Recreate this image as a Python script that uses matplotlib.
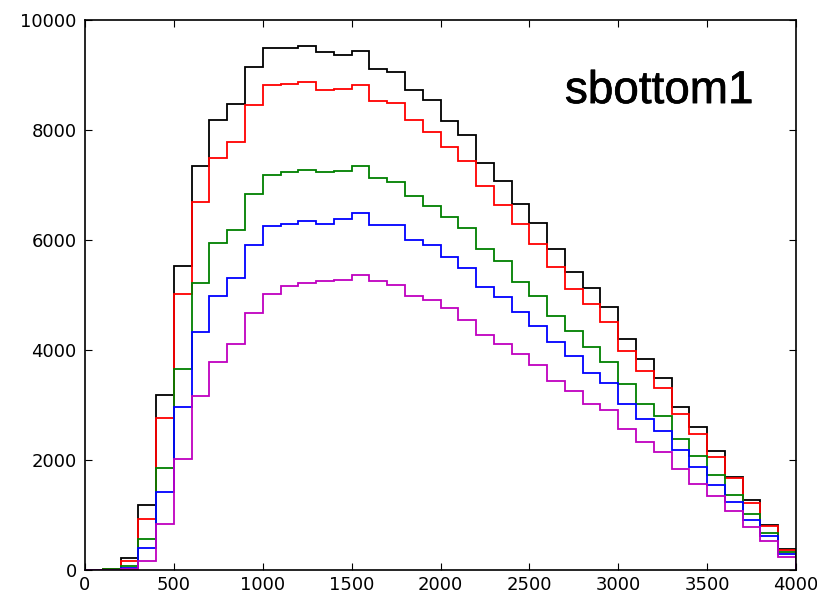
import numpy as np
import matplotlib
matplotlib.use("Agg")
import matplotlib.pyplot as plt
import matplotlib.patheffects as pe

# bin edges: 0..4000 in steps of 100
edges = np.arange(0, 4001, 100)

# counts per bin
black = [0, 25, 210, 1190, 3190, 5530, 7350, 8175, 8475, 9140,
         9500, 9500, 9535, 9410, 9365, 9440, 9105, 9060, 8720, 8540,
         8160, 7905, 7400, 7065, 6660, 6305, 5835, 5410, 5130, 4775,
         4200, 3840, 3490, 2965, 2605, 2165, 1700, 1265, 825, 390]
red = [0, 15, 165, 935, 2755, 5025, 6700, 7490, 7785, 8455,
       8810, 8830, 8870, 8720, 8745, 8810, 8520, 8495, 8180, 7960,
       7690, 7440, 6975, 6640, 6290, 5925, 5510, 5110, 4835, 4515,
       3975, 3610, 3310, 2840, 2470, 2055, 1670, 1220, 795, 355]
green = [0, 10, 80, 560, 1855, 3655, 5215, 5945, 6185, 6845,
         7185, 7235, 7270, 7230, 7255, 7340, 7120, 7055, 6805, 6610,
         6410, 6215, 5835, 5610, 5240, 4985, 4625, 4340, 4055, 3780,
         3385, 3025, 2805, 2385, 2080, 1720, 1370, 1020, 675, 320]
blue = [0, 5, 45, 400, 1420, 2965, 4320, 4975, 5305, 5905,
        6255, 6300, 6345, 6300, 6385, 6485, 6265, 6265, 6000, 5910,
        5700, 5490, 5140, 4970, 4690, 4430, 4140, 3900, 3580, 3400,
        3025, 2750, 2520, 2185, 1880, 1545, 1245, 915, 625, 285]
magenta = [0, 5, 20, 170, 835, 2020, 3170, 3775, 4115, 4670,
           5010, 5170, 5220, 5250, 5270, 5365, 5260, 5175, 4990, 4910,
           4760, 4550, 4280, 4110, 3925, 3720, 3440, 3260, 3020, 2905,
           2555, 2320, 2140, 1835, 1565, 1340, 1065, 780, 520, 235]

series = [black, red, green, blue, magenta]
colors = ['k', 'r', '#008000', 'b', 'm']

fig = plt.figure(figsize=(8.17, 5.95), dpi=100)
ax = fig.add_axes([85/817, 1-570/595, 711/817, 550/595])

for vals, c in zip(series, colors):
    ax.hist(edges[:-1], bins=edges, weights=vals, histtype='step',
            color=c, linewidth=1.3)

ax.set_xlim(0, 4000)
ax.set_ylim(0, 10000)
ax.set_xticks(np.arange(0, 4001, 500))
ax.set_yticks(np.arange(0, 10001, 2000))
ax.tick_params(direction='in', length=5, width=0.8, top=True, right=True,
               labelsize=13)
ax.tick_params(axis='x', pad=4)
ax.tick_params(axis='y', pad=6)
for s in ax.spines.values():
    s.set_linewidth(1.2)

# label in the corner, a touch heavier than regular weight
ax.text(0.675, 0.849, 'sbottom1', transform=ax.transAxes,
        family='Liberation Sans', fontsize=33, ha='left', va='baseline',
        path_effects=[pe.withStroke(linewidth=0.5, foreground='black')])

fig.savefig('out.png', dpi=100)
